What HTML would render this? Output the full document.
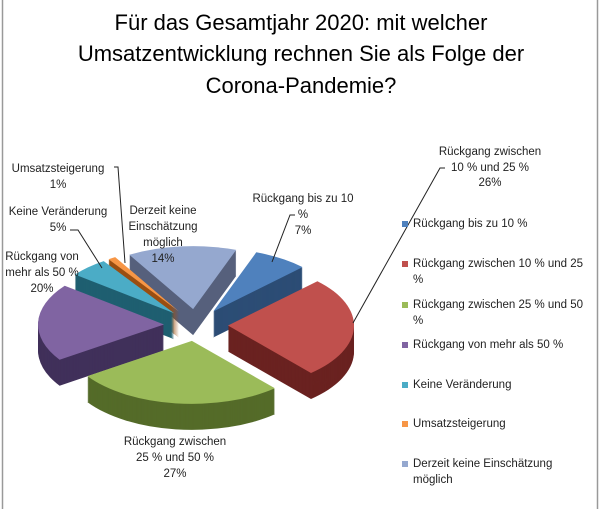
<!DOCTYPE html>
<html><head><meta charset="utf-8"><style>
html,body{margin:0;padding:0;background:#fff}
body{width:601px;height:509px;overflow:hidden;position:relative;font-family:"Liberation Sans",sans-serif}
svg{position:absolute;left:0;top:0}
</style></head><body>
<svg id="s" width="601" height="509" xmlns="http://www.w3.org/2000/svg">
<rect x="0" y="0" width="601" height="509" fill="#fff"/>
<line x1="2.5" y1="0" x2="2.5" y2="509" stroke="#999" stroke-width="1.5"/>
<line x1="597.5" y1="0" x2="597.5" y2="509" stroke="#999" stroke-width="1.5"/>
<g font-size="22" fill="#000" text-anchor="middle">
<text x="301" y="30">Für das Gesamtjahr 2020: mit welcher</text>
<text x="301" y="61">Umsatzentwicklung rechnen Sie als Folge der</text>
<text x="301" y="93">Corona-Pandemie?</text>
</g>
<g id="pie"></g>
<g font-size="11.5" fill="#222" text-anchor="middle">
<text x="490" y="155">Rückgang zwischen</text>
<text x="490" y="171">10 % und 25 %</text>
<text x="490" y="186">26%</text>
<text x="303" y="202">Rückgang bis zu 10</text>
<text x="303" y="218">%</text>
<text x="303" y="234">7%</text>
<text x="163" y="214">Derzeit keine</text>
<text x="163" y="230">Einschätzung</text>
<text x="163" y="246">möglich</text>
<text x="163" y="262">14%</text>
<text x="58" y="172">Umsatzsteigerung</text>
<text x="58" y="188">1%</text>
<text x="58" y="215">Keine Veränderung</text>
<text x="58" y="231">5%</text>
<text x="42" y="260">Rückgang von</text>
<text x="42" y="276">mehr als 50 %</text>
<text x="42" y="292">20%</text>
<text x="175" y="445">Rückgang zwischen</text>
<text x="175" y="461">25 % und 50 %</text>
<text x="175" y="477">27%</text>
</g>
<g stroke="#222" stroke-width="1" fill="none">
<polyline points="445,168 440,168 353,323"/>
<polyline points="295,215 290,215 272,262"/>
<polyline points="114,167 118,167 125,263"/>
<polyline points="70,230 78,230 102,268"/>
</g>
<g font-size="11.5" fill="#222">
<rect x="402" y="221" width="6" height="6" fill="#4f81bd"/><text x="413" y="227">Rückgang bis zu 10 %</text>
<rect x="402" y="261" width="6" height="6" fill="#c0504d"/><text x="413" y="267">Rückgang zwischen 10 % und 25</text><text x="413" y="283">%</text>
<rect x="402" y="302" width="6" height="6" fill="#9bbb59"/><text x="413" y="308">Rückgang zwischen 25 % und 50</text><text x="413" y="324">%</text>
<rect x="402" y="342" width="6" height="6" fill="#8064a2"/><text x="413" y="348">Rückgang von mehr als 50 %</text>
<rect x="402" y="382" width="6" height="6" fill="#4bacc6"/><text x="413" y="388">Keine Veränderung</text>
<rect x="402" y="421" width="6" height="6" fill="#f79646"/><text x="413" y="427">Umsatzsteigerung</text>
<rect x="402" y="461" width="6" height="6" fill="#95a8cf"/><text x="413" y="467">Derzeit keine Einschätzung</text><text x="413" y="483">möglich</text>
</g>
</svg>
<script>
(function(){
var cx=196,cy=325,rx=126,ry=63,depth=26,ex=32,ey=16,rot=20;
var data=[[7,"#4f81bd","#2c4d75"],[26,"#c0504d","#6a2220"],[27,"#9bbb59","#546b29"],[20,"#8064a2","#40305a"],[5,"#4bacc6","#1f5f70"],[1,"#f79646","#9a4f12"],[14,"#95a8cf","#56607c"]];
var acc=0,sl=[];
data.forEach(function(d){var a0=acc*3.6+rot,a1=(acc+d[0])*3.6+rot;acc+=d[0];sl.push({a0:a0,a1:a1,c:d[1],s:d[2]});});
function pt(x,y,a){var r=a*Math.PI/180;return [x+rx*Math.sin(r),y-ry*Math.cos(r)];}
function path(x,y,a0,a1){var p=pt(x,y,a0),q=pt(x,y,a1);var large=(a1-a0)>180?1:0;
return "M"+x+","+y+"L"+p[0].toFixed(1)+","+p[1].toFixed(1)+"A"+rx+","+ry+" 0 "+large+" 1 "+q[0].toFixed(1)+","+q[1].toFixed(1)+"Z";}
sl.forEach(function(s){var m=(s.a0+s.a1)/2*Math.PI/180;s.x=cx+ex*Math.sin(m);s.y=cy-ey*Math.cos(m);s.m=(s.a0+s.a1)/2;
s.k=-Math.abs(((s.m%360)+360)%360-180);});
sl.sort(function(a,b){return a.k-b.k;});
var g=document.getElementById("pie"),h="";
sl.forEach(function(s){
for(var i=depth;i>0;i--){h+='<path d="'+path(s.x,s.y+i,s.a0,s.a1)+'" fill="'+s.s+'"/>';}
h+='<path d="'+path(s.x,s.y,s.a0,s.a1)+'" fill="'+s.c+'"/>';
});
g.innerHTML=h;
})();
</script>
</body></html>
